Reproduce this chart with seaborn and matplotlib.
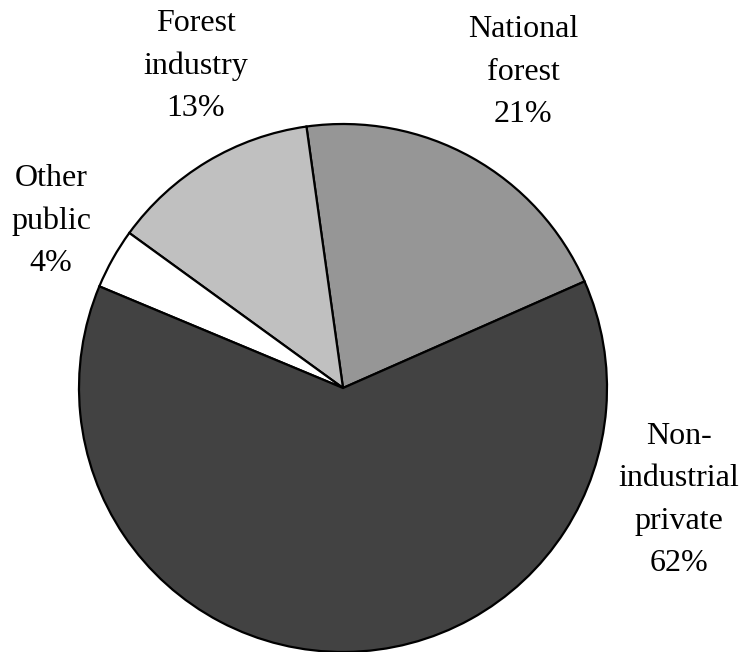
import matplotlib
matplotlib.use("Agg")
import matplotlib.pyplot as plt
import seaborn as sns

categories = ["National forest", "Forest industry", "Other public", "Non-industrial private"]
# wedge sizes (labels show the rounded percentages)
values = [20.6, 12.8, 3.7, 62.9]
label_texts = ["National\nforest\n21%", "Forest\nindustry\n13%", "Other\npublic\n4%", "Non-\nindustrial\nprivate\n62%"]
colors = ["#969696", "#c0c0c0", "#ffffff", "#424242"]

sns.set_theme(style="white")
plt.rcParams['font.family'] = ['Liberation Serif', 'DejaVu Serif']

fig = plt.figure(figsize=(7.46, 6.52), dpi=100)
ax = fig.add_axes([0, 0, 1, 1])
ax.axis('off')

ax.pie(values, colors=colors, startangle=23.8, counterclock=True,
       center=(343, 264), radius=264,
       wedgeprops=dict(edgecolor='black', linewidth=1.6))
ax.set_xlim(0, 746)
ax.set_ylim(0, 652)
ax.set_aspect('equal')

label_pos = [(523, 580), (196, 586), (51, 431), (679, 152)]
for txt, (x, y) in zip(label_texts, label_pos):
    ax.text(x, y, txt, ha='center', va='center', fontsize=23,
            linespacing=1.6, color='black')

fig.savefig("out.png", dpi=100)
